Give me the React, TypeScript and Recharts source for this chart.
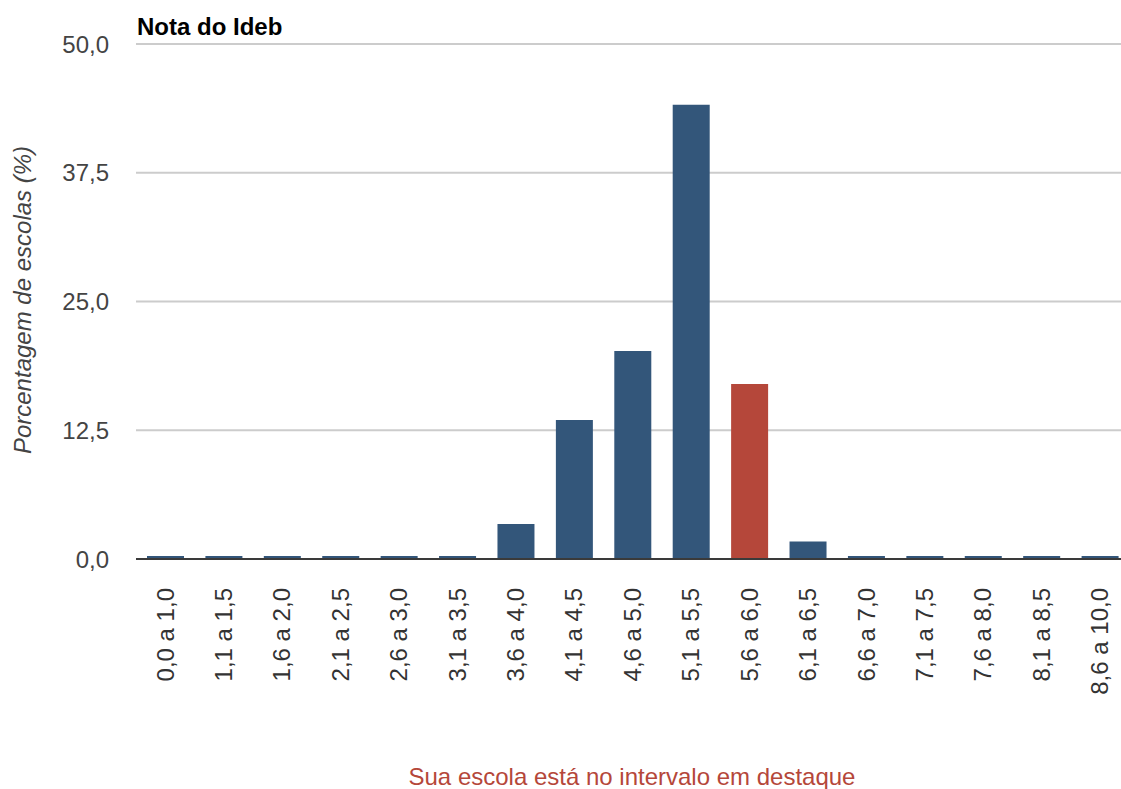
import { Bar, BarChart, CartesianGrid, Cell, XAxis, YAxis } from 'recharts'

const faixas = [
    '0,0 a 1,0', '1,1 a 1,5', '1,6 a 2,0', '2,1 a 2,5', '2,6 a 3,0', '3,1 a 3,5',
    '3,6 a 4,0', '4,1 a 4,5', '4,6 a 5,0', '5,1 a 5,5', '5,6 a 6,0', '6,1 a 6,5',
    '6,6 a 7,0', '7,1 a 7,5', '7,6 a 8,0', '8,1 a 8,5', '8,6 a 10,0',
]
const percentuais = [0, 0, 0, 0, 0, 0, 3.4, 13.5, 20.2, 44.1, 17.0, 1.7, 0, 0, 0, 0, 0]
const faixaDestaque = '5,6 a 6,0'
const yTicks = [0, 12.5, 25, 37.5, 50]

const data = faixas.map((name, i) => ({ name, total: percentuais[i] }))

const FONT = "Arial, 'Liberation Sans', sans-serif"
const AZUL = '#33567a'
const VERMELHO = '#b5473a'

// rótulo do eixo x girado, lido de baixo pra cima
function RotatedTick(props: any) {
    const { x, y, payload } = props
    return (
        <g transform={`translate(${x},${y})`}>
            <text
                x={0}
                y={0}
                dy="0.35em"
                textAnchor="end"
                transform="rotate(-90)"
                fontSize={24}
                fontFamily={FONT}
                fill="#333"
            >
                {payload.value}
            </text>
        </g>
    )
}

export default function App() {
    return (
        <div style={{ position: 'absolute', left: 0, top: 0, width: 1121, height: 789, overflow: 'hidden', background: '#fff' }}>
            <BarChart
                width={1140}
                height={789}
                data={data}
                margin={{ top: 44, right: 11, bottom: 0, left: 0 }}
            >
                <CartesianGrid vertical={false} stroke="#cccccc" strokeWidth={2} />
                <XAxis
                    dataKey="name"
                    interval={0}
                    tickLine={false}
                    tickMargin={23}
                    height={230}
                    axisLine={{ stroke: '#3a3a3a', strokeWidth: 2 }}
                    tick={<RotatedTick />}
                />
                <YAxis
                    width={136}
                    domain={[0, 50]}
                    ticks={yTicks}
                    axisLine={false}
                    tickLine={false}
                    tickMargin={21}
                    tick={{ fontSize: 24, fill: '#444', fontFamily: FONT }}
                    tickFormatter={(v) => Number(v).toFixed(1).replace('.', ',')}
                />
                <Bar dataKey="total" barSize={37} minPointSize={3} isAnimationActive={false}>
                    {data.map((d) => (
                        <Cell key={d.name} fill={d.name === faixaDestaque ? VERMELHO : AZUL} />
                    ))}
                </Bar>
            </BarChart>
            <svg
                width={1121}
                height={789}
                style={{ position: 'absolute', left: 0, top: 0, pointerEvents: 'none' }}
            >
                <text x={137} y={35} fontSize={24} fontWeight="bold" fontFamily={FONT} fill="#000">
                    Nota do Ideb
                </text>
                <text
                    transform="translate(31,300) rotate(-90)"
                    textAnchor="middle"
                    fontSize={24}
                    fontStyle="italic"
                    fontFamily={FONT}
                    fill="#444"
                >
                    Porcentagem de escolas (%)
                </text>
                <text x={632} y={785} textAnchor="middle" fontSize={24} fontFamily={FONT} fill={VERMELHO}>
                    Sua escola está no intervalo em destaque
                </text>
            </svg>
        </div>
    )
}
